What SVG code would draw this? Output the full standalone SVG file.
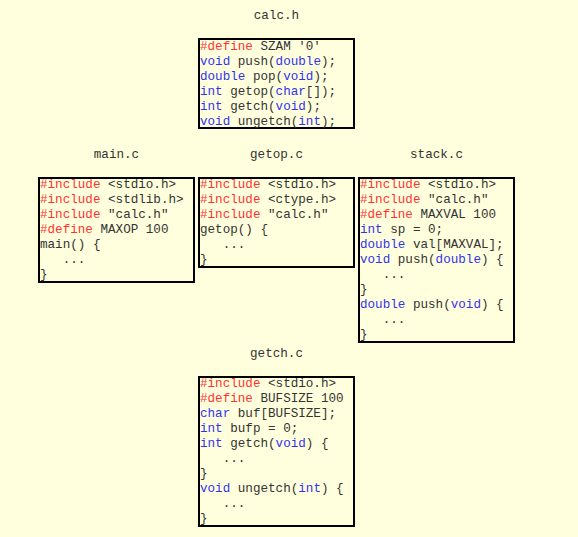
<svg xmlns="http://www.w3.org/2000/svg" width="578" height="537" viewBox="0 0 578 537">
<style>
text{font-family:"Liberation Mono","Courier New",monospace;font-size:12.6px;fill:#333;white-space:pre}
.k{fill:#ff3333}
.t{fill:#3333ee}
.box{fill:none;stroke:#000;stroke-width:2}
.title{text-anchor:middle}
</style>
<rect x="0" y="0" width="578" height="537" fill="#ffffdd"/>
<g id="calc_h">
<text class="title" x="276.5" y="18.5">calc.h</text>
<rect class="box" x="199" y="39" width="155" height="89"/>
<text x="200" y="49.5" xml:space="preserve"><tspan class="k">#define</tspan> SZAM '0'</text>
<text x="200" y="64.5" xml:space="preserve"><tspan class="t">void</tspan> push(<tspan class="t">double</tspan>);</text>
<text x="200" y="79.5" xml:space="preserve"><tspan class="t">double</tspan> pop(<tspan class="t">void</tspan>);</text>
<text x="200" y="94.5" xml:space="preserve"><tspan class="t">int</tspan> getop(<tspan class="t">char</tspan>[]);</text>
<text x="200" y="109.5" xml:space="preserve"><tspan class="t">int</tspan> getch(<tspan class="t">void</tspan>);</text>
<text x="200" y="124.5" xml:space="preserve"><tspan class="t">void</tspan> ungetch(<tspan class="t">int</tspan>);</text>
</g>
<g id="main_c">
<text class="title" x="116.5" y="157.5">main.c</text>
<rect class="box" x="39" y="178" width="155" height="104"/>
<text x="40" y="188" xml:space="preserve"><tspan class="k">#include</tspan> &lt;stdio.h&gt;</text>
<text x="40" y="203" xml:space="preserve"><tspan class="k">#include</tspan> &lt;stdlib.h&gt;</text>
<text x="40" y="218" xml:space="preserve"><tspan class="k">#include</tspan> "calc.h"</text>
<text x="40" y="233" xml:space="preserve"><tspan class="k">#define</tspan> MAXOP 100</text>
<text x="40" y="248" xml:space="preserve">main() {</text>
<text x="40" y="263" xml:space="preserve">   ...</text>
<text x="40" y="278" xml:space="preserve">}</text>
</g>
<g id="getop_c">
<text class="title" x="276.5" y="157.5">getop.c</text>
<rect class="box" x="199" y="178" width="155" height="89"/>
<text x="200" y="188" xml:space="preserve"><tspan class="k">#include</tspan> &lt;stdio.h&gt;</text>
<text x="200" y="203" xml:space="preserve"><tspan class="k">#include</tspan> &lt;ctype.h&gt;</text>
<text x="200" y="218" xml:space="preserve"><tspan class="k">#include</tspan> "calc.h"</text>
<text x="200" y="233" xml:space="preserve">getop() {</text>
<text x="200" y="248" xml:space="preserve">   ...</text>
<text x="200" y="263" xml:space="preserve">}</text>
</g>
<g id="stack_c">
<text class="title" x="436.5" y="157.5">stack.c</text>
<rect class="box" x="359" y="178" width="155" height="164"/>
<text x="360" y="188" xml:space="preserve"><tspan class="k">#include</tspan> &lt;stdio.h&gt;</text>
<text x="360" y="203" xml:space="preserve"><tspan class="k">#include</tspan> "calc.h"</text>
<text x="360" y="218" xml:space="preserve"><tspan class="k">#define</tspan> MAXVAL 100</text>
<text x="360" y="233" xml:space="preserve"><tspan class="t">int</tspan> sp = 0;</text>
<text x="360" y="248" xml:space="preserve"><tspan class="t">double</tspan> val[MAXVAL];</text>
<text x="360" y="263" xml:space="preserve"><tspan class="t">void</tspan> push(<tspan class="t">double</tspan>) {</text>
<text x="360" y="278" xml:space="preserve">   ...</text>
<text x="360" y="293" xml:space="preserve">}</text>
<text x="360" y="308" xml:space="preserve"><tspan class="t">double</tspan> push(<tspan class="t">void</tspan>) {</text>
<text x="360" y="323" xml:space="preserve">   ...</text>
<text x="360" y="338" xml:space="preserve">}</text>
</g>
<g id="getch_c">
<text class="title" x="276.5" y="357">getch.c</text>
<rect class="box" x="199" y="377" width="155" height="149"/>
<text x="200" y="387" xml:space="preserve"><tspan class="k">#include</tspan> &lt;stdio.h&gt;</text>
<text x="200" y="402" xml:space="preserve"><tspan class="k">#define</tspan> BUFSIZE 100</text>
<text x="200" y="417" xml:space="preserve"><tspan class="t">char</tspan> buf[BUFSIZE];</text>
<text x="200" y="432" xml:space="preserve"><tspan class="t">int</tspan> bufp = 0;</text>
<text x="200" y="447" xml:space="preserve"><tspan class="t">int</tspan> getch(<tspan class="t">void</tspan>) {</text>
<text x="200" y="462" xml:space="preserve">   ...</text>
<text x="200" y="477" xml:space="preserve">}</text>
<text x="200" y="492" xml:space="preserve"><tspan class="t">void</tspan> ungetch(<tspan class="t">int</tspan>) {</text>
<text x="200" y="507" xml:space="preserve">   ...</text>
<text x="200" y="522" xml:space="preserve">}</text>
</g>
<g id="connectors"></g>
</svg>
